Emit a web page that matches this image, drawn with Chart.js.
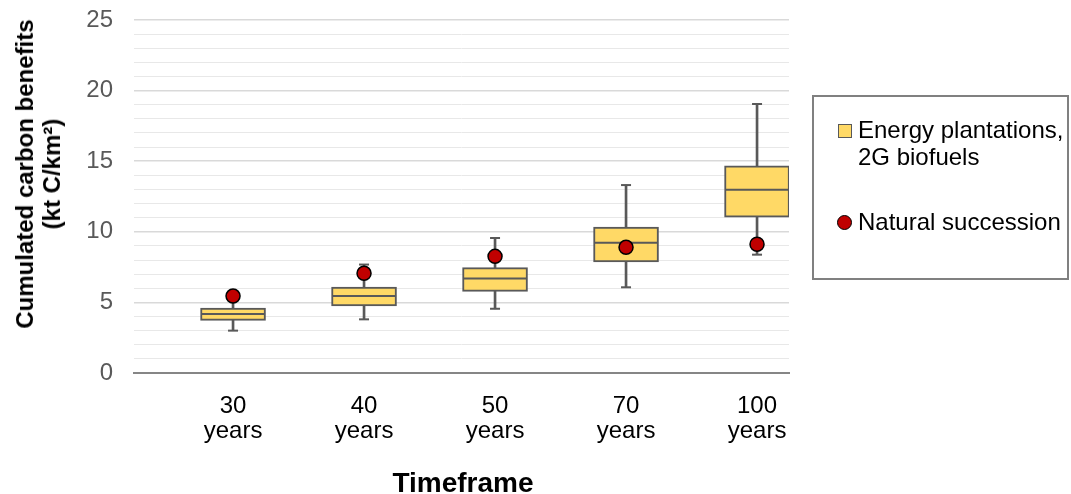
<!DOCTYPE html>
<html>
<head>
<meta charset="utf-8">
<script src="https://cdn.jsdelivr.net/npm/chart.js@4/dist/chart.umd.min.js"></script>
<style>
  html, body { margin: 0; padding: 0; background: #fff; }
  #wrap { position: relative; width: 1071px; height: 494px; overflow: hidden; font-family: "Liberation Sans", Arial, sans-serif; }
  #c { position: absolute; left: 0; top: 0; }
  #ytitle { position: absolute; left: 38px; top: 174px; transform: translate(-50%, -50%) rotate(-90deg); white-space: nowrap; text-align: center; font-weight: bold; font-size: 24px; line-height: 27px; color: #000; }
  #xtitle { position: absolute; left: 463px; top: 483px; transform: translate(-50%, -50%); white-space: nowrap; font-weight: bold; font-size: 28px; color: #000; }
  #legend { position: absolute; left: 812px; top: 95px; width: 253px; height: 181px; border: 2px solid #808080; box-sizing: content-box; }
  .li { position: absolute; left: 44px; font-size: 24px; line-height: 27px; color: #000; white-space: nowrap; }
  .sq { position: absolute; left: 24px; width: 12px; height: 12px; background: #FFD966; border: 1.5px solid #595959; }
  .dot { position: absolute; left: 23px; width: 13px; height: 13px; border-radius: 50%; background: #C00000; border: 1.5px solid #000; }
</style>
</head>
<body>
<div id="wrap">
  <canvas id="c" width="1071" height="494"></canvas>
  <div id="ytitle">Cumulated carbon benefits<br>(kt C/km²)</div>
  <div id="xtitle">Timeframe</div>
  <div id="legend">
    <div class="sq" style="top:27px"></div>
    <div class="li" style="top:19px">Energy plantations,<br>2G biofuels</div>
    <div class="dot" style="top:118px"></div>
    <div class="li" style="top:111px">Natural succession</div>
  </div>
</div>
<script>
const categories = ['30 years', '40 years', '50 years', '70 years', '100 years'];
const whiskerMin = [3.0, 3.8, 4.55, 6.07, 8.38];
const q1 = [3.73, 4.75, 5.78, 7.86, 11.03];
const median = [4.18, 5.45, 6.70, 9.22, 12.97];
const q3 = [4.6, 6.09, 7.46, 10.33, 14.68];
const whiskerMax = [5.4, 7.68, 9.56, 13.31, 19.05];
const naturalSuccession = [5.45, 7.06, 8.26, 8.90, 9.12];
const yTickLabels = ['0', '5', '10', '15', '20', '25'];

const idx = categories.map((_, i) => i);
const boxColor = '#FFD966';
const edge = '#595959';

const data = {
  datasets: [
    {
      type: 'bar', label: 'whiskers', order: 5, grouped: false,
      data: idx.map(i => ({ x: i, y: [whiskerMin[i], whiskerMax[i]] })),
      backgroundColor: edge, borderWidth: 0, barThickness: 2
    },
    {
      type: 'bar', label: 'Energy plantations, 2G biofuels', order: 4, grouped: false,
      data: idx.map(i => ({ x: i, y: [q1[i], q3[i]] })),
      backgroundColor: boxColor, borderColor: edge, borderWidth: 2, borderSkipped: false, barThickness: 65
    },
    {
      type: 'scatter', label: 'median', order: 3,
      data: idx.map(i => ({ x: i, y: median[i] })),
      pointStyle: 'line', radius: 32, borderColor: edge, borderWidth: 2, hoverRadius: 32
    },
    {
      type: 'scatter', label: 'caps', order: 2,
      data: idx.flatMap(i => [{ x: i, y: whiskerMin[i] }, { x: i, y: whiskerMax[i] }]),
      pointStyle: 'line', radius: 5, borderColor: edge, borderWidth: 2, hoverRadius: 5
    },
    {
      type: 'scatter', label: 'Natural succession', order: 1,
      data: idx.map(i => ({ x: i, y: naturalSuccession[i] })),
      pointStyle: 'circle', radius: 7, backgroundColor: '#C00000', borderColor: '#000', borderWidth: 1.5, hoverRadius: 7
    }
  ]
};

new Chart(document.getElementById('c'), {
  type: 'bar',
  data,
  options: {
    responsive: false,
    animation: false,
    devicePixelRatio: 1,
    layout: { autoPadding: false, padding: { left: 0, right: 282, top: 20, bottom: 0 } },
    plugins: { legend: { display: false }, tooltip: { enabled: false } },
    scales: {
      x: {
        type: 'linear', offset: false,
        min: -0.756, max: 4.244,
        afterBuildTicks: s => { s.ticks = idx.map(i => ({ value: i })); },
        afterFit: s => { s.height = 121; s.paddingLeft = 0; s.paddingRight = 0; },
        grid: { display: false, drawTicks: false },
        border: { display: true, color: '#868686', width: 2 },
        ticks: {
          autoSkip: false,
          maxRotation: 0,
          padding: 21,
          color: '#000',
          font: { family: '"Liberation Sans", Arial, sans-serif', size: 24, lineHeight: 1.05 },
          callback: v => categories[v] ? categories[v].split(' ') : ''
        }
      },
      y: {
        min: 0, max: 25,
        afterBuildTicks: s => { s.ticks = Array.from({ length: 26 }, (_, k) => ({ value: k })); },
        afterFit: s => { s.width = 134; s.paddingTop = 0; s.paddingBottom = 0; },
        grid: {
          drawTicks: false,
          color: c => (c.tick && c.tick.value % 5 === 0) ? '#d9d9d9' : '#e8e8e8',
          lineWidth: c => (c.tick && c.tick.value % 5 === 0) ? 1.5 : 1
        },
        border: { display: false },
        ticks: {
          autoSkip: false,
          padding: 21,
          color: '#595959',
          font: { family: '"Liberation Sans", Arial, sans-serif', size: 24 },
          callback: v => (v % 5 === 0) ? yTickLabels[v / 5] : ''
        }
      }
    }
  }
});
</script>
</body>
</html>
